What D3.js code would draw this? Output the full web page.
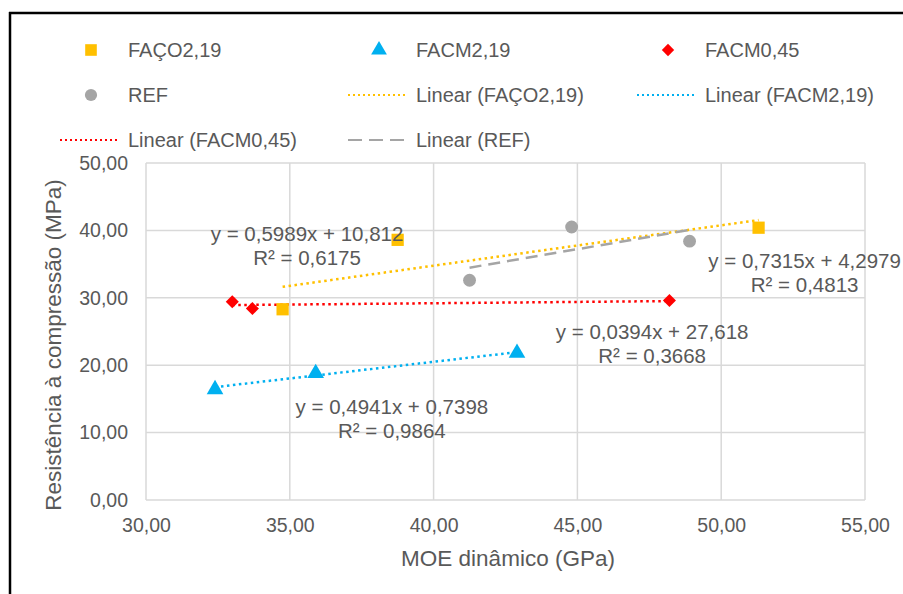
<!DOCTYPE html>
<html>
<head>
<meta charset="utf-8">
<script src="https://cdn.jsdelivr.net/npm/d3@7"></script>
<style>
  body { margin: 0; background: #fff; }
  svg { font-family: "Liberation Sans", Arial, sans-serif; }
  text { fill: #595959; }
</style>
</head>
<body>
<script>
// series: MOE dinâmico (GPa) vs resistência (MPa)
var seriesNames = ["FAÇO2,19", "FACM2,19", "FACM0,45", "REF"];
var faco219 = [[34.75, 28.3], [38.75, 38.6], [51.3, 40.4]];
var facm219 = [[32.4, 16.4], [35.9, 18.8], [42.9, 21.8]];
var facm045 = [[33.0, 29.4], [33.7, 28.4], [48.2, 29.6]];
var ref = [[41.25, 32.6], [44.8, 40.5], [48.9, 38.4]];

// trendline coefficients as printed on the chart
var slopes = [0.5989, 0.4941, 0.0394, 0.7315];
var intercepts = [10.812, 0.7398, 27.618, 4.2979];
var eqTexts = ["y = 0,5989x + 10,812", "y = 0,4941x + 0,7398", "y = 0,0394x + 27,618", "y = 0,7315x + 4,2979"];
var r2Texts = ["R² = 0,6175", "R² = 0,9864", "R² = 0,3668", "R² = 0,4813"];

var xTicks = [30, 35, 40, 45, 50, 55];
var yTicks = [0, 10, 20, 30, 40, 50];

var colors = ["#FFC000", "#00B0F0", "#FF0000", "#A5A5A5"];
// diamond = square turned 45deg, like excel's marker
var symbols = [d3.symbolSquare, d3.symbolTriangle, d3.symbolSquare, d3.symbolCircle];
var symSizes = [150, 120, 85, 130];
var symRot = [0, 0, 45, 0];
var allData = [faco219, facm219, facm045, ref];

var W = 903, H = 594;
var svg = d3.select("body").append("svg").attr("width", W).attr("height", H);

// outer frame (top + left only)
svg.append("line").attr("x1", 9).attr("x2", W).attr("y1", 13).attr("y2", 13)
    .attr("stroke", "#000").attr("stroke-width", 2.5);
svg.append("line").attr("x1", 10).attr("x2", 10).attr("y1", 12).attr("y2", H)
    .attr("stroke", "#000").attr("stroke-width", 2.5);

var x = d3.scaleLinear().domain([30, 55]).range([146, 865]);
var y = d3.scaleLinear().domain([0, 50]).range([500, 163]);

var fmt = function (v) { return v.toFixed(2).replace(".", ","); };

// grid
var grid = svg.append("g");
grid.selectAll(".vg").data(xTicks).enter().append("line")
    .attr("x1", d => x(d)).attr("x2", d => x(d))
    .attr("y1", y(0)).attr("y2", y(50))
    .attr("stroke", "#D9D9D9").attr("stroke-width", 1.5);
grid.selectAll(".hg").data(yTicks).enter().append("line")
    .attr("x1", x(30)).attr("x2", x(55))
    .attr("y1", d => y(d)).attr("y2", d => y(d))
    .attr("stroke", "#D9D9D9").attr("stroke-width", 1.5);

// axes via d3 axis, then strip lines
var xAxis = svg.append("g").attr("transform", "translate(0," + y(0) + ")")
    .call(d3.axisBottom(x).tickValues(xTicks).tickFormat(fmt).tickSize(0).tickPadding(18));
var yAxis = svg.append("g").attr("transform", "translate(" + x(30) + ",0)")
    .call(d3.axisLeft(y).tickValues(yTicks).tickFormat(fmt).tickSize(0).tickPadding(18));
[xAxis, yAxis].forEach(function (a) {
    a.select(".domain").remove();
    a.selectAll("text").attr("font-size", 19.5).attr("fill", "#595959")
        .style("font-family", "'Liberation Sans', Arial, sans-serif");
});

// axis titles
svg.append("text").attr("x", 508).attr("y", 558).attr("text-anchor", "middle")
    .attr("dominant-baseline", "central").attr("font-size", 22.5).text("MOE dinâmico (GPa)");
svg.append("text").attr("transform", "translate(53,345) rotate(-90)").attr("text-anchor", "middle")
    .attr("dominant-baseline", "central").attr("font-size", 22.5).text("Resistência à compressão (MPa)");

// trendlines
var dashes = ["2.5,3.5", "2.5,3.5", "2.5,3.5", "12,7"];
allData.forEach(function (pts, i) {
    var ext = d3.extent(pts, d => d[0]);
    svg.append("line")
        .attr("x1", x(ext[0])).attr("y1", y(slopes[i] * ext[0] + intercepts[i]))
        .attr("x2", x(ext[1])).attr("y2", y(slopes[i] * ext[1] + intercepts[i]))
        .attr("stroke", colors[i]).attr("stroke-width", 2.5)
        .attr("stroke-dasharray", dashes[i]);
});

// markers
allData.forEach(function (pts, i) {
    svg.append("g").selectAll("path").data(pts).enter().append("path")
        .attr("transform", d => "translate(" + x(d[0]) + "," + y(d[1]) + ") rotate(" + symRot[i] + ")")
        .attr("d", d3.symbol().type(symbols[i]).size(symSizes[i]))
        .attr("fill", colors[i]);
});

// equation labels (data coords of label centre)
var eqPos = [[35.6, 39.6], [38.55, 13.8], [47.6, 25.0], [52.9, 35.5]];
eqPos.forEach(function (p, i) {
    var g = svg.append("g").attr("font-size", 20.5).attr("text-anchor", "middle");
    g.append("text").attr("x", x(p[0])).attr("y", y(p[1])).attr("dominant-baseline", "central").text(eqTexts[i]);
    g.append("text").attr("x", x(p[0])).attr("y", y(p[1]) + 24).attr("dominant-baseline", "central").text(r2Texts[i]);
});

// legend
var legendItems = [
    {label: seriesNames[0], k: 0, type: "mark", col: 0, row: 0},
    {label: seriesNames[1], k: 1, type: "mark", col: 1, row: 0},
    {label: seriesNames[2], k: 2, type: "mark", col: 2, row: 0},
    {label: seriesNames[3], k: 3, type: "mark", col: 0, row: 1},
    {label: "Linear (" + seriesNames[0] + ")", k: 0, type: "line", col: 1, row: 1},
    {label: "Linear (" + seriesNames[1] + ")", k: 1, type: "line", col: 2, row: 1},
    {label: "Linear (" + seriesNames[2] + ")", k: 2, type: "line", col: 0, row: 2},
    {label: "Linear (" + seriesNames[3] + ")", k: 3, type: "line", col: 1, row: 2}
];
var colX = [60, 348, 637];
var rowY = [50, 95, 140];
var leg = svg.append("g");
legendItems.forEach(function (it) {
    var lx = colX[it.col], ly = rowY[it.row];
    if (it.type === "mark") {
        leg.append("path").attr("transform", "translate(" + (lx + 31) + "," + ly + ") rotate(" + symRot[it.k] + ")")
            .attr("d", d3.symbol().type(symbols[it.k]).size(symSizes[it.k] * 0.9))
            .attr("fill", colors[it.k]);
    } else {
        leg.append("line").attr("x1", lx).attr("x2", lx + 58).attr("y1", ly).attr("y2", ly)
            .attr("stroke", colors[it.k]).attr("stroke-width", 2)
            .attr("stroke-dasharray", it.k === 3 ? "14,7" : "2,3");
    }
    leg.append("text").attr("x", lx + 68).attr("y", ly).attr("dominant-baseline", "central")
        .attr("font-size", 20).text(it.label);
});
</script>
</body>
</html>
